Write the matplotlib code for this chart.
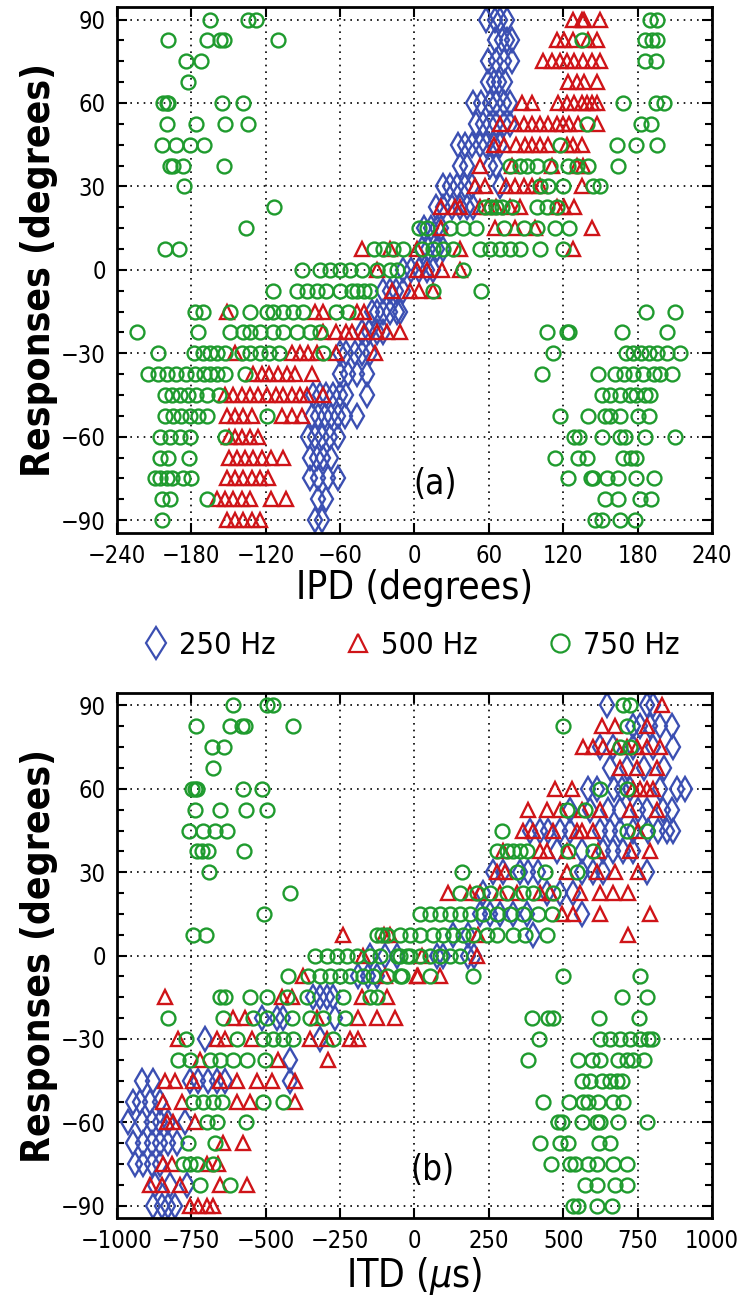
import matplotlib.pyplot as plt
from matplotlib.lines import Line2D
from matplotlib.ticker import MultipleLocator

# response level (deg) -> stimulus values
# panel (a): IPD in degrees
ipd_250 = {
    90: [58, 65, 69, 75], 82.5: [65, 71, 75, 79], 75: [59, 66, 72, 79],
    67.5: [59, 64, 68, 73], 60: [47, 54, 61, 66, 72, 77], 52.5: [50, 55, 61, 66, 72, 77],
    45: [35, 41, 46, 53, 58, 64, 69], 37.5: [37, 42, 61, 66],
    30: [23, 29, 34, 41, 46, 69], 22.5: [17, 23, 30, 37, 42, 47],
    15: [8, 13, 18, 21], 7.5: [6, 11, 18, 23], 0: [-9, -3, 4, 10, 15],
    -7.5: [-25, -20, -15, -9], -15: [-34, -30, -25, -20, -14, -12],
    -22.5: [-42, -37, -30, -25], -30: [-60, -55, -48, -42, -36],
    -37.5: [-60, -54, -46, -38], -45: [-82, -76, -71, -66, -60, -55, -38],
    -52.5: [-83, -78, -72, -67, -62, -56, -46], -60: [-86, -80, -75, -68, -62],
    -67.5: [-84, -79, -74, -67], -75: [-84, -78, -70, -62],
    -82.5: [-78, -71], -90: [-80, -75],
}
ipd_500 = {
    90: [128, 135, 137, 150], 82.5: [115, 121, 128, 140, 147],
    75: [104, 111, 117, 123, 129, 136, 143, 150], 67.5: [124, 131, 137, 147],
    60: [87, 95, 116, 123, 129, 135, 139, 143, 147],
    52.5: [69, 81, 88, 95, 101, 108, 115, 120, 125, 132, 147],
    45: [64, 72, 82, 89, 95, 101, 108, 123, 128, 135],
    37.5: [53, 79, 111, 131, 136], 30: [49, 57, 74, 81, 88, 95, 101, 135],
    22.5: [21, 33, 37, 53, 59, 66, 77, 85, 115, 121, 129],
    15: [21, 65, 81, 97, 143], 7.5: [-42, -20, 2, 37, 128], 0: [-30, 2, 10, 22, 37],
    -7.5: [-18, -4, 4, 15], -15: [-151, -80, -74, -46, -41],
    -22.5: [-74, -63, -55, -50, -41, -30, -22, -12],
    -30: [-145, -99, -92, -86, -79, -63, -32],
    -37.5: [-130, -123, -117, -110, -103, -96, -83],
    -45: [-153, -146, -139, -133, -126, -119, -112, -106, -99, -92, -87, -74],
    -52.5: [-151, -145, -138, -131, -107, -99, -91],
    -60: [-150, -145, -139, -133, -126],
    -67.5: [-150, -143, -137, -130, -123, -116, -106],
    -75: [-151, -145, -138, -131, -125, -118],
    -82.5: [-159, -153, -146, -139, -133, -116, -104],
    -90: [-151, -145, -138, -131, -125],
}
ipd_750 = {
    90: [-165, -134, -128, 190, 196], 82.5: [-199, -167, -157, -154, -110, 135, 186, 192, 196],
    75: [-184, -172, 186, 195], 67.5: [-183],
    60: [-203, -200, -199, -155, -138, 168, 195, 201],
    52.5: [-200, -176, -153, -134, 139, 183, 191],
    45: [-204, -192, -181, -170, 117, 163, 179, 196],
    37.5: [-197, -195, -187, -154, 77, 85, 91, 99, 109, 124, 131, 140, 164],
    30: [-186, 101, 108, 120, 144, 150],
    22.5: [-113, 57, 62, 66, 71, 79, 99, 107, 115],
    15: [-136, 4, 10, 29, 39, 50, 72, 88, 99, 113, 125],
    7.5: [-201, -190, -33, -25, -17, -9, 6, 15, 23, 31, 53, 61, 69, 77, 85, 101, 120],
    0: [-91, -76, -68, -60, -52, -42, -30, -20, -14, 39],
    -7.5: [-114, -95, -87, -79, -71, -60, -50, -46, -41, -36, 15, 54],
    -15: [-177, -171, -149, -133, -119, -114, -106, -98, -90, -63, -54, 187, 210],
    -22.5: [-224, -175, -149, -138, -133, -125, -114, -106, -95, -84, -76,
            107, 123, 125, 167, 204],
    -30: [-207, -178, -171, -165, -159, -153, -139, -133, -125, -117, -109, -74,
          112, 171, 176, 183, 189, 196, 204, 214],
    -37.5: [-215, -207, -200, -192, -184, -177, -170, -165, -159, -153, -137,
            103, 148, 162, 169, 176, 184, 193, 198, 208],
    -45: [-201, -196, -189, -183, -176, -167, -158, 151, 158, 166, 174, 179, 186, 190],
    -52.5: [-201, -195, -188, -181, -175, -167, -119, 117, 140, 154, 158, 166, 180, 189],
    -60: [-205, -197, -189, -181, -153, 129, 133, 151, 166, 170, 186, 210],
    -67.5: [-205, -199, -182, 113, 132, 139, 168, 175, 179],
    -75: [-209, -205, -200, -196, -187, -180, 124, 142, 144, 155, 164, 179, 193],
    -82.5: [-204, -197, -167, 154, 164, 182, 191],
    -90: [-204, 146, 151, 166, 178],
}

# panel (b): ITD in microseconds
itd_250 = {
    90: [647, 781, 802], 82.5: [735, 758, 792, 825, 866],
    75: [624, 667, 735, 802, 869], 67.5: [657, 714, 770, 837],
    60: [583, 613, 669, 697, 724, 825, 882, 909],
    52.5: [523, 590, 650, 691, 751, 781, 835, 866],
    45: [388, 422, 449, 489, 523, 624, 657, 691, 735, 786, 820, 849, 869],
    37.5: [479, 563, 634, 667, 701, 735],
    30: [264, 298, 355, 382, 415, 563, 600, 634, 781],
    22.5: [230, 445, 489, 533], 15: [220, 254, 287, 331, 378, 563],
    7.5: [130, 180, 398], 0: [-150, -100, -60, 76, 96, 180, 200],
    -7.5: [-190, -156, -126], -15: [-341, -318, -294, -274],
    -22.5: [-513, -462, -442, -267], -30: [-704, -318], -37.5: [-418],
    -45: [-916, -879, -754, -727, -694, -664, -637, -418],
    -52.5: [-946, -923, -889, -855], -60: [-963, -916, -882, -855, -829, -771],
    -67.5: [-946, -912, -882, -855, -829, -798], -75: [-939, -912, -882, -855],
    -82.5: [-872, -822, -765], -90: [-879, -849, -829, -805],
}
itd_500 = {
    90: [832], 82.5: [630, 674, 781],
    75: [567, 600, 634, 681, 714, 748, 781, 825], 67.5: [691, 748, 815],
    60: [472, 529, 735, 758, 781, 802],
    52.5: [382, 445, 489, 563, 624, 724, 815],
    45: [365, 398, 466, 546, 563, 600, 751],
    37.5: [298, 422, 445, 512, 617, 724, 792],
    30: [277, 304, 512, 613, 674, 751],
    22.5: [113, 187, 220, 287, 344, 422, 455, 556, 624, 667, 718],
    15: [496, 533, 624, 792], 7.5: [-240, -103, -82, 214, 718], 0: [-173, 25, 210],
    -7.5: [-375, -99, 8, 12, 86], -15: [-839, -445, -412, -176, -92],
    -22.5: [-610, -570, -328, -190, -126, -66],
    -30: [-795, -664, -637, -546, -351, -294, -217, -190],
    -37.5: [-721, -459, -291],
    -45: [-839, -805, -744, -654, -597, -529, -479, -402],
    -52.5: [-845, -781, -597, -553, -402], -60: [-832, -812, -738],
    -67.5: [-644, -577], -75: [-845, -815, -697, -661],
    -82.5: [-889, -849, -788, -654, -563], -90: [-754, -727, -697, -677],
}
itd_750 = {
    90: [-610, -496, -476, 701, 724],
    82.5: [-734, -620, -580, -570, -408, 500, 714],
    75: [-680, -640, 691, 724], 67.5: [-677],
    60: [-748, -738, -731, -577, -513, 624, 714],
    52.5: [-738, -654, -567, -496, 512, 573],
    45: [-758, -711, -671, -630, 294, 714, 781],
    37.5: [-731, -714, -694, -573, 277, 311, 331, 355, 378, 516, 600],
    30: [-691, 160, 344, 439, 546],
    22.5: [-418, 153, 210, 254, 311, 365, 398, 466],
    15: [-506, 18, 52, 86, 119, 153, 187, 230, 277, 321, 365, 415, 462],
    7.5: [-744, -701, -126, -109, -92, -49, -15, 18, 62, 96, 130, 164, 198,
          244, 277, 331, 372, 445],
    0: [-334, -294, -261, -227, -193, -150, -116, -59, -25, -49, -15, 18, 52,
        86, 119, 153],
    -7.5: [-425, -358, -318, -284, -250, -217, -173, -140, -92, -42, -49, 52, 198, 500, 758],
    -15: [-654, -637, -553, -496, -429, -361, -240, -150, -126, 697, 781],
    -22.5: [-829, -644, -543, -496, -412, -351, -306, -234, 395, 449, 466, 620, 755],
    -30: [-768, -597, -509, -476, -442, -408, -274, 419, 624, 657, 691, 724, 758, 786, 798],
    -37.5: [-795, -754, -687, -654, -610, -563, -503, 382, 550, 596, 624, 684, 714, 735, 770],
    -45: [563, 590, 630, 657, 681, 697],
    -52.5: [-744, -711, -677, -647, -509, -442, 432, 519, 566, 583, 617, 667, 701],
    -60: [-697, -664, -567, 482, 496, 563, 613, 624, 684, 781],
    -67.5: [-761, -671, 422, 489, 516, 620, 657],
    -75: [-778, -754, -731, -677, 459, 523, 540, 583, 613, 667, 714],
    -82.5: [-721, -620, 573, 613, 674, 714],
    -90: [533, 550, 613, 664],
}

series_labels = ["250 Hz", "500 Hz", "750 Hz"]
colors = ["#3b4fb2", "#cf1418", "#1f9b2e"]
markers = ["d", "^", "o"]
sizes = [12.5, 10.5, 10]


def flatten(d):
    xs, ys = [], []
    for level, vals in d.items():
        xs += vals
        ys += [level] * len(vals)
    return xs, ys


plt.rcParams["font.family"] = ["DejaVu Sans"]
plt.rcParams["font.stretch"] = "condensed"

fig = plt.figure(figsize=(7.45, 12.96), dpi=100)
ax1 = fig.add_axes([0.157, 0.589, 0.7987, 0.4056])
ax2 = fig.add_axes([0.157, 0.060, 0.7987, 0.4053])

panels = [
    (ax1, [ipd_250, ipd_500, ipd_750], (-240, 240), 60, "IPD (degrees)", "(a)", 17),
    (ax2, [itd_250, itd_500, itd_750], (-1000, 1000), 250, r"ITD ($\mu$s)", "(b)", 60),
]

for ax, data, xlim, xstep, xlabel, tag, tagx in panels:
    for d, c, m, s in zip(data, colors, markers, sizes):
        xs, ys = flatten(d)
        ax.plot(xs, ys, linestyle="none", marker=m, markersize=s,
                markerfacecolor="none", markeredgecolor=c, markeredgewidth=1.7)
    ax.set_xlim(*xlim)
    ax.set_ylim(-94.5, 94.5)
    ax.xaxis.set_major_locator(MultipleLocator(xstep))
    ax.yaxis.set_major_locator(MultipleLocator(30))
    ax.yaxis.set_minor_locator(MultipleLocator(7.5))
    ax.tick_params(which="both", direction="in", top=True, right=True,
                   width=1.5, labelsize=17, pad=8)
    ax.tick_params(which="major", length=7)
    ax.tick_params(which="minor", length=5)
    ax.grid(True, which="major", linestyle=(0, (1, 3)), color="black", linewidth=1.2)
    for sp in ax.spines.values():
        sp.set_linewidth(2)
    ax.set_xlabel(xlabel, fontsize=28, labelpad=1)
    ax.set_ylabel("Responses (degrees)", fontsize=28, fontweight="bold", labelpad=2)
    ax.text(tagx, -77, tag, fontsize=25, ha="center", va="center")

handles = [
    Line2D([], [], linestyle="none", marker=m, markersize=s * 1.3,
           markerfacecolor="none", markeredgecolor=c, markeredgewidth=1.6)
    for m, c, s in zip(markers, colors, sizes)
]
fig.legend(handles, series_labels, loc="center", bbox_to_anchor=(0.55, 0.502),
           ncol=3, frameon=False, fontsize=22, handlelength=1.0,
           handletextpad=0.25, columnspacing=2.2)

fig.savefig("out.png", dpi=100)
